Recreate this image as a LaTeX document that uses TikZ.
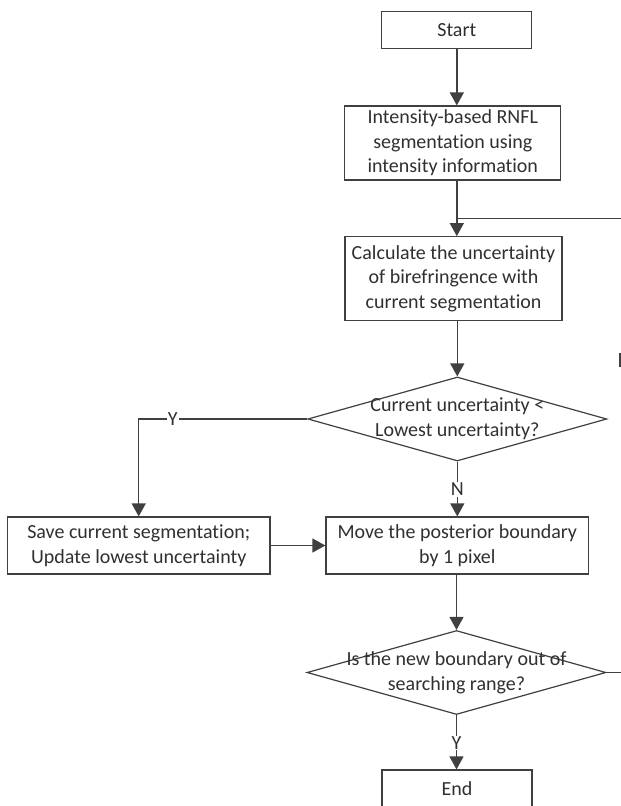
\documentclass[tikz,border=0pt]{standalone}
\usepackage{fontspec}
\setmainfont[RawFeature={-liga;-clig;-calt;-dlig}]{Carlito}
\usetikzlibrary{arrows.meta,shapes.geometric}
\definecolor{ln}{HTML}{404040}
\definecolor{tx}{HTML}{303030}
\begin{document}
\begin{tikzpicture}[x=1pt,y=-1pt,
  every node/.style={font=\fontsize{20}{24.6}\selectfont, text=tx},
  box/.style={draw=ln, line width=1.2pt, fill=white, align=center, inner sep=0pt},
  dia/.style={draw=ln, line width=1.2pt, diamond, inner sep=0pt},
  conn/.style={draw=ln, line width=1.4pt},
  arr/.style={conn, -{Triangle[width=14pt,length=13pt]}},
  lbl/.style={fill=white, inner sep=1pt}]
\fill[white] (0,0) rectangle (621,806);
\useasboundingbox (0,0) rectangle (621,806);

\node[box, minimum width=150pt, minimum height=37pt] (start) at (456.8,30.3) {Start};
\node[box, minimum width=216pt, minimum height=74pt] (seg) at (452.8,143) {Intensity-based RNFL\\segmentation using\\intensity information};
\node[box, minimum width=217pt, minimum height=84pt] (calc) at (453.5,278.7) {Calculate the uncertainty\\of birefringence with\\current segmentation};
\node[dia, minimum width=299pt, minimum height=84pt] (d1) at (457.3,419) {};
\node[align=center] (d1t) at (d1.center) {Current uncertainty <\\Lowest uncertainty?};
\node[box, minimum width=262.7pt, minimum height=57pt] (save) at (138.7,545.5) {Save current segmentation;\\Update lowest uncertainty};
\node[box, minimum width=262.7pt, minimum height=57pt] (move) at (457.3,545.5) {Move the posterior boundary\\by 1 pixel};
\node[dia, minimum width=299pt, minimum height=84pt] (d2) at (456.5,672.5) {};
\node[align=center] (d2t) at (d2.center) {Is the new boundary out of\\searching range?};
\node[box, minimum width=150pt, minimum height=37pt] (end) at (457,788.5) {End};

\coordinate (fb) at (630,218.3);
\coordinate (d2r) at (630,672.5);

\draw[arr] (start.south) -- (start.south |- seg.north);
\draw[arr] (start.south |- seg.south) -- (start.south |- calc.north);
\draw[conn] (fb) -- (start.south |- fb);
\draw[arr] (d1.north |- calc.south) -- (d1.north);
\draw[arr] (d1.west) -| (save.north);
\node[lbl] (y1) at (172.7,419) {Y};
\draw[arr] (d1.south) -- (d1.south |- move.north);
\node[lbl] (n1) at (457.3,489.3) {N};
\draw[arr] (save.east) -- (move.west);
\draw[arr] (d2.north |- move.south) -- (d2.north);
\draw[conn] (d2.east) -- (d2r);
\draw[arr] (d2.south) -- (d2.south |- end.north);
\node[lbl] (y2) at (456.5,743) {Y};
\coordinate (mk1) at (620,353);
\coordinate (mk2) at (620,367);
\draw[conn, line width=2pt] (mk1) -- (mk2);
\end{tikzpicture}
\end{document}
